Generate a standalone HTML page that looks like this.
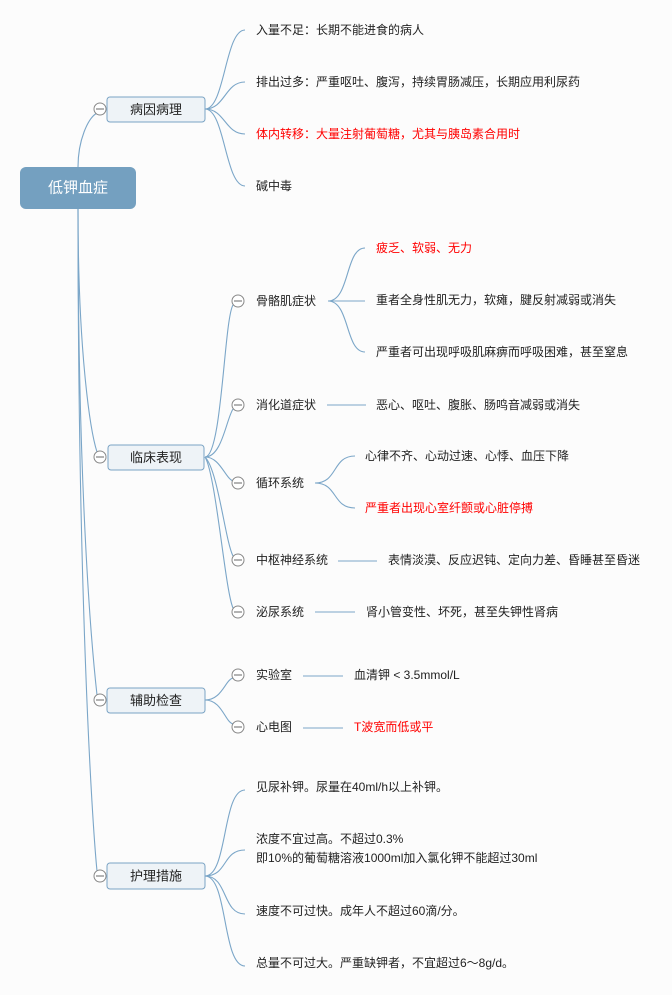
<!DOCTYPE html>
<html><head><meta charset="utf-8"><style>
html,body{margin:0;padding:0;background:#fcfcfc;}
svg{display:block;}
text{font-family:"Liberation Sans","Noto Sans CJK SC",sans-serif;font-size:12px;fill:#222;dominant-baseline:central;}
.r{fill:#ff0000;}
.l1{font-size:13px;text-anchor:middle;}
path,line{fill:none;stroke:#7ba6c8;stroke-width:1.1;}
.box{fill:#eef3f7;stroke:#7aa3c4;stroke-width:1;}
.c{fill:#fff;stroke:#888;stroke-width:1;}
</style></head><body>
<svg width="672" height="995" viewBox="0 0 672 995" xmlns="http://www.w3.org/2000/svg">
<!-- root connectors -->
<path d="M78 167 C78 140 88 118 97 113"/>
<path d="M78 209 C78 350 90 430 97 452"/>
<path d="M78 209 C78 500 92 650 97 695"/>
<path d="M78 209 C78 600 92 820 97 871"/>
<rect x="20" y="167" width="116" height="42" rx="6" fill="#74a0c0"/>
<text x="78" y="188" style="font-size:15px;fill:#fff;text-anchor:middle">低钾血症</text>

<!-- 病因病理 -->
<path d="M205 109 C225 109 225 30 245 30"/>
<path d="M205 109 C225 109 225 82 245 82"/>
<path d="M205 109 C225 109 225 134 245 134"/>
<path d="M205 109 C225 109 225 186 245 186"/>
<rect class="box" x="107" y="97" width="98" height="25" rx="3"/>
<text class="l1" x="156" y="109.5">病因病理</text>
<circle class="c" cx="100" cy="109" r="6"/><line x1="96" y1="109" x2="104" y2="109" style="stroke:#777"/>
<text x="256" y="30">入量不足：长期不能进食的病人</text>
<text x="256" y="82">排出过多：严重呕吐、腹泻，持续胃肠减压，长期应用利尿药</text>
<text x="256" y="134" class="r">体内转移：大量注射葡萄糖，尤其与胰岛素合用时</text>
<text x="256" y="186">碱中毒</text>

<!-- 临床表现 -->
<path d="M205 457 C222 457 224 320 233 305"/>
<path d="M205 457 C222 457 226 420 233 409"/>
<path d="M205 457 C220 457 225 478 233 481"/>
<path d="M205 457 C218 470 225 540 233 556"/>
<path d="M205 457 C216 475 225 590 233 608"/>
<rect class="box" x="108" y="445" width="96" height="25" rx="3"/>
<text class="l1" x="156" y="457.5">临床表现</text>
<circle class="c" cx="100" cy="457" r="6"/><line x1="96" y1="457" x2="104" y2="457" style="stroke:#777"/>

<circle class="c" cx="238" cy="301" r="6"/><line x1="234" y1="301" x2="242" y2="301" style="stroke:#777"/>
<text x="256" y="301">骨骼肌症状</text>
<path d="M328 301 C350 301 345 248 365 248"/>
<line x1="328" y1="301" x2="365" y2="301"/>
<path d="M328 301 C350 301 345 352 365 352"/>
<text x="376" y="248" class="r">疲乏、软弱、无力</text>
<text x="376" y="300">重者全身性肌无力，软瘫，腱反射减弱或消失</text>
<text x="376" y="352">严重者可出现呼吸肌麻痹而呼吸困难，甚至窒息</text>

<circle class="c" cx="238" cy="405" r="6"/><line x1="234" y1="405" x2="242" y2="405" style="stroke:#777"/>
<text x="256" y="405">消化道症状</text>
<line x1="327" y1="405" x2="366" y2="405"/>
<text x="376" y="405">恶心、呕吐、腹胀、肠鸣音减弱或消失</text>

<circle class="c" cx="238" cy="483" r="6"/><line x1="234" y1="483" x2="242" y2="483" style="stroke:#777"/>
<text x="256" y="483">循环系统</text>
<path d="M315 483 C338 483 332 456 355 456"/>
<path d="M315 483 C338 483 332 508 355 508"/>
<text x="365" y="456">心律不齐、心动过速、心悸、血压下降</text>
<text x="365" y="508" class="r">严重者出现心室纤颤或心脏停搏</text>

<circle class="c" cx="238" cy="560" r="6"/><line x1="234" y1="560" x2="242" y2="560" style="stroke:#777"/>
<text x="256" y="560">中枢神经系统</text>
<line x1="338" y1="561" x2="377" y2="561"/>
<text x="388" y="560">表情淡漠、反应迟钝、定向力差、昏睡甚至昏迷</text>

<circle class="c" cx="238" cy="612" r="6"/><line x1="234" y1="612" x2="242" y2="612" style="stroke:#777"/>
<text x="256" y="612">泌尿系统</text>
<line x1="315" y1="612" x2="355" y2="612"/>
<text x="366" y="612">肾小管变性、坏死，甚至失钾性肾病</text>

<!-- 辅助检查 -->
<path d="M205 700 C222 700 225 680 233 678"/>
<path d="M205 700 C222 700 225 722 233 724"/>
<rect class="box" x="107" y="688" width="98" height="25" rx="3"/>
<text class="l1" x="156" y="700.5">辅助检查</text>
<circle class="c" cx="100" cy="700" r="6"/><line x1="96" y1="700" x2="104" y2="700" style="stroke:#777"/>
<circle class="c" cx="238" cy="675" r="6"/><line x1="234" y1="675" x2="242" y2="675" style="stroke:#777"/>
<text x="256" y="675">实验室</text>
<line x1="303" y1="676" x2="343" y2="676"/>
<text x="354" y="675">血清钾 &lt; 3.5mmol/L</text>
<circle class="c" cx="238" cy="727" r="6"/><line x1="234" y1="727" x2="242" y2="727" style="stroke:#777"/>
<text x="256" y="727">心电图</text>
<line x1="303" y1="728" x2="343" y2="728"/>
<text x="354" y="727" class="r">T波宽而低或平</text>

<!-- 护理措施 -->
<path d="M205 876 C228 876 222 790 245 790"/>
<path d="M205 876 C228 876 222 850 245 850"/>
<path d="M205 876 C228 876 222 914 245 914"/>
<path d="M205 876 C228 876 222 966 245 966"/>
<rect class="box" x="107" y="863" width="98" height="26" rx="3"/>
<text class="l1" x="156" y="876">护理措施</text>
<circle class="c" cx="100" cy="876" r="6"/><line x1="96" y1="876" x2="104" y2="876" style="stroke:#777"/>
<text x="256" y="787">见尿补钾。尿量在40ml/h以上补钾。</text>
<text x="256" y="839">浓度不宜过高。不超过0.3%</text>
<text x="256" y="858">即10%的葡萄糖溶液1000ml加入氯化钾不能超过30ml</text>
<text x="256" y="911">速度不可过快。成年人不超过60滴/分。</text>
<text x="256" y="963">总量不可过大。严重缺钾者，不宜超过6～8g/d。</text>
</svg>
</body></html>
